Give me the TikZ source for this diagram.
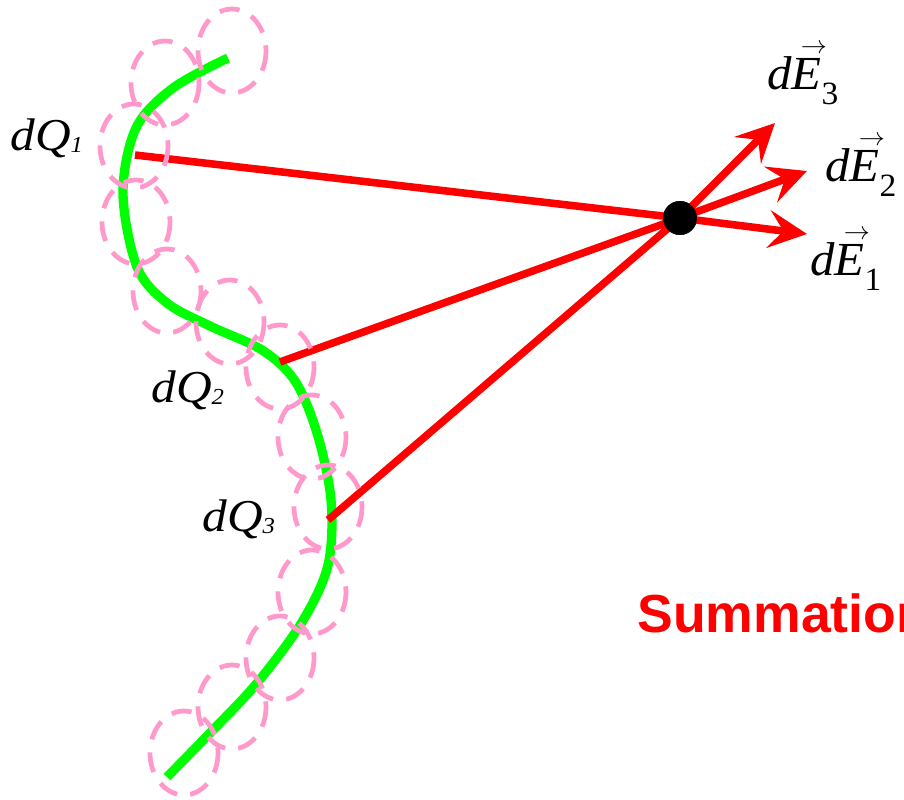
\documentclass[tikz,border=0pt]{standalone}
\usepackage{fontspec}
\usepackage{graphicx}
\setmainfont{Liberation Serif}
\newfontfamily\sumfont{Liberation Sans}
\usetikzlibrary{arrows.meta}
\definecolor{curvegreen}{RGB}{0,255,0}
\definecolor{pinkdash}{RGB}{255,153,204}
\definecolor{redline}{RGB}{255,0,0}
\newcommand\dQlabel[1]{\scalebox{1.08}[1]{\fontsize{26}{28}\selectfont\itshape dQ\raisebox{-1pt}{\fontsize{13}{13}\selectfont #1}}}
\newcommand\dElabel[1]{\scalebox{1.03}[1]{\fontsize{27}{28}\selectfont\itshape d\makebox[0pt][l]{\kern5pt\raisebox{20.5pt}{\fontsize{15}{15}\selectfont$\rightarrow$}}E\raisebox{-8pt}{\upshape\fontsize{18.5}{19}\selectfont #1}}}
\tikzset{
  chargecurve/.style={draw=curvegreen, line width=5.3pt, line cap=butt},
  fieldline/.style={draw=redline, line width=4.3pt},
  fieldarrow/.style={draw=redline, line width=4.3pt, -{Stealth[length=22pt, width=21.5pt, inset=8.5pt, fill=redline]}},
  element/.style={draw=pinkdash, line width=2.7pt, dash pattern=on 11.5pt off 7.5pt},
  lbl/.style={anchor=base west, inner sep=0pt},
  pointdot/.style={circle, fill=black, inner sep=0pt, minimum size=19.3pt}
}
\begin{document}
\begin{tikzpicture}[x=0.02cm, y=-0.02cm]
\useasboundingbox (0,0) rectangle (904,800);
\clip (0,0) rectangle (904,800);
% charged wire
\draw[chargecurve] plot[smooth, tension=0.55] coordinates {
 (228,58) (173,88) (136,128) (123,193) (137,267) (167,303) (210,326)
 (262,350) (295,381) (317,433) (331,500) (328,565) (302,622) (257,683)
 (210,733) (167,777)};
% field point and segment ends
\node[pointdot] (P) at (680,218) {};
\coordinate (q1) at (135,155);
\coordinate (q2) at (280,362);
\coordinate (q3) at (328,520);
\coordinate (e1) at (807,234);
\coordinate (e2) at (807,171);
\coordinate (e3) at (775,123);
\draw[fieldline] (q1) -- (P.center);
\draw[fieldline] (q2) -- (P.center);
\draw[fieldline] (q3) -- (P.center);
\draw[fieldarrow] (P.center) -- (e1);
\draw[fieldarrow] (P.center) -- (e2);
\draw[fieldarrow] (P.center) -- (e3);
\node[pointdot] at (P) {};
% charge elements
\foreach \c in {(232,51),(165,83),(134,146),(136,222),(167,291),(230,322),
  (280,367),(312,437),(328,507),(312,592),(280,658),(232,707),(184,753)}
  \draw[element] \c ellipse [x radius=34, y radius=42];
% labels
\node[lbl] (lq1) at (10,151) {\dQlabel{1}};
\node[lbl] (lq2) at (151,403) {\dQlabel{2}};
\node[lbl] (lq3) at (202,532) {\dQlabel{3}};
\node[lbl] (le3) at (767,90) {\dElabel{3}};
\node[lbl] (le2) at (825,182) {\dElabel{2}};
\node[lbl] (le1) at (810,276) {\dElabel{1}};
\node[lbl, text=redline] (sum) at (637,633) {\sumfont\bfseries\fontsize{30.5}{31}\selectfont Summation};
\end{tikzpicture}
\end{document}
